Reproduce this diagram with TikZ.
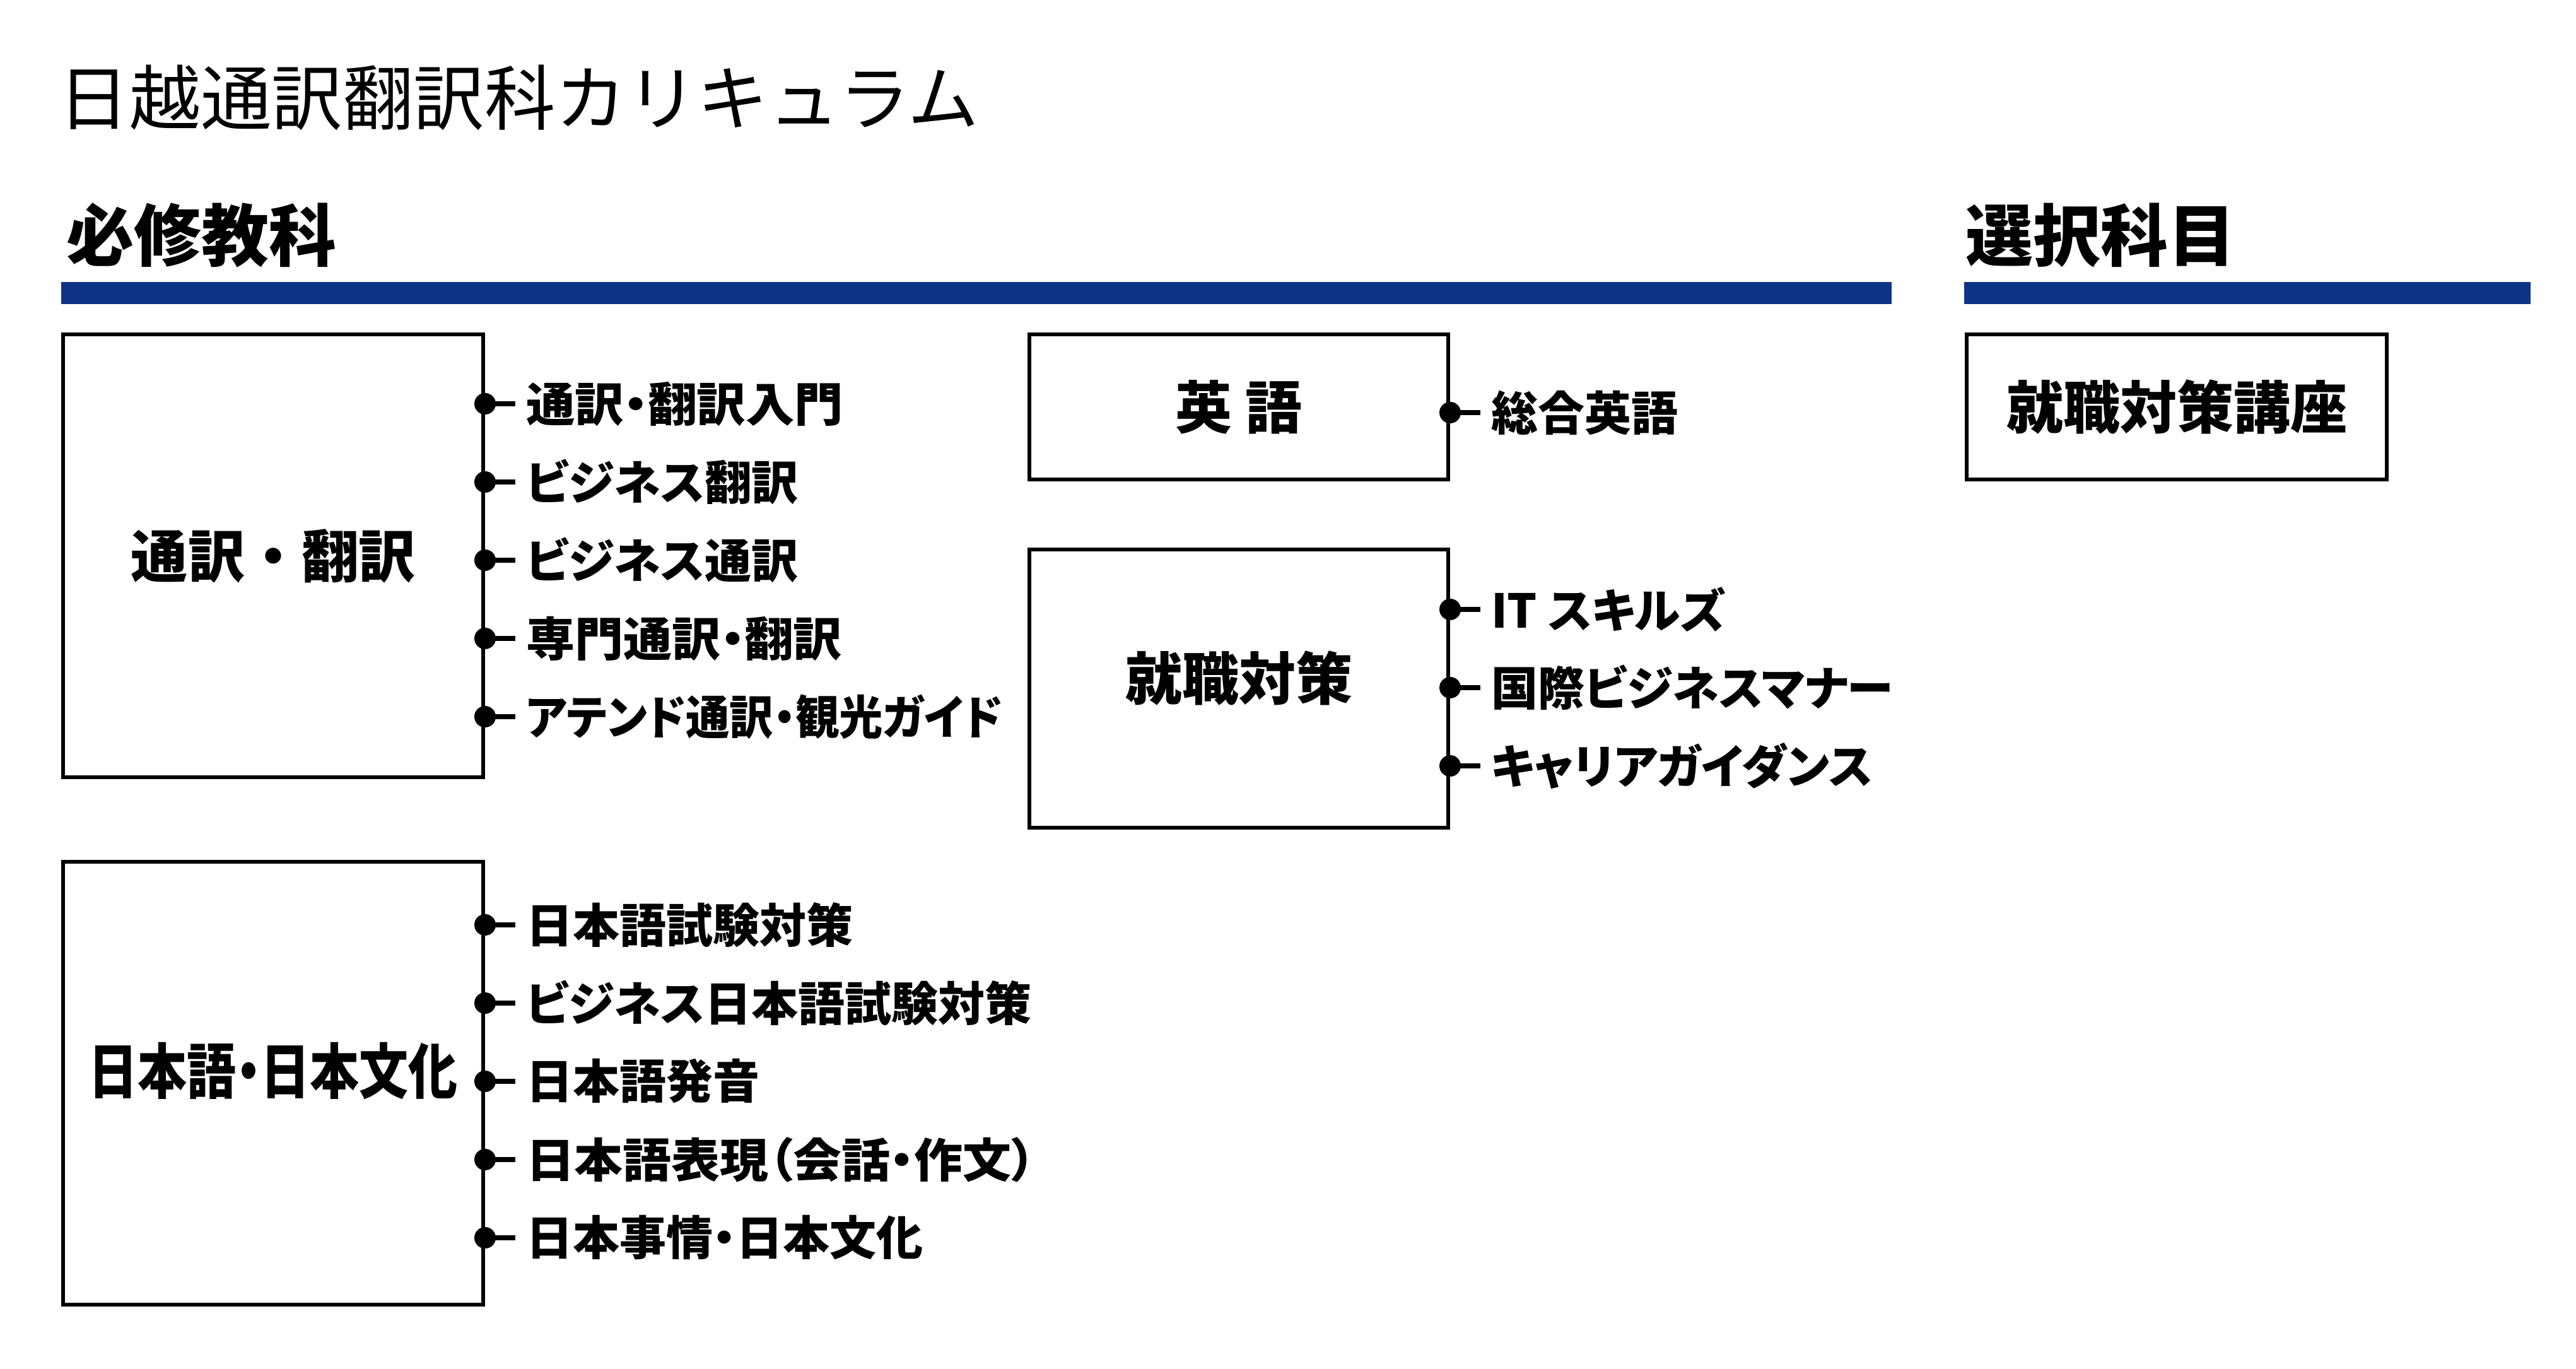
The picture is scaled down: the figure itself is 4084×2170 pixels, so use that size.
\documentclass[tikz,border=0pt]{standalone}
\usepackage{fontspec}
\newfontfamily\jp{Noto Sans CJK JP}
\newfontfamily\jpp[RawFeature=+palt]{Noto Sans CJK JP}
\definecolor{barblue}{RGB}{15,51,135}
\tikzset{
  frame/.style={draw=black, line width=1.2pt, fill=white, inner sep=0pt},
  boxlabel/.style={inner sep=0pt, font=\jp\bfseries\fontsize{18}{20}\selectfont},
  item/.style={anchor=west, inner sep=0pt,
    font=\jpp\bfseries\fontsize{14.8}{16}\selectfont},
  stub/.style={line width=1.6pt, shorten >=3.2pt},
  knob/.style={fill=black},
  bar/.style={fill=barblue, draw=none},
  heading/.style={anchor=west, inner sep=0pt,
    font=\jp\bfseries\fontsize{21.4}{24}\selectfont},
  titletext/.style={anchor=west, inner sep=0pt,
    font=\jp\fontsize{22.5}{26}\selectfont},
}
\begin{document}
\begin{tikzpicture}[x=0.2pt,y=-0.2pt]
\fill[white] (0,0) rectangle (4084,2170);
\useasboundingbox (0,0) rectangle (4084,2170);

% title and headings
\node[titletext] (title) at (92,155) {日越通訳翻訳科カリキュラム};
\node[heading] (h1) at (104,373) {必修教科};
\node[heading] (h2) at (3115,373) {選択科目};
\path[bar] (97,447) rectangle (2999,482);
\path[bar] (3114,447) rectangle (4012,482);

% boxes
\node[frame, minimum width=133.2pt, minimum height=140.4pt] (b1) at (433,881) {};
\node[frame, minimum width=133.2pt, minimum height=140.4pt] (b2) at (433,1717) {};
\node[frame, minimum width=132.8pt, minimum height=46pt] (b3) at (1964,645) {};
\node[frame, minimum width=132.8pt, minimum height=88.2pt] (b4) at (1964,1091.5) {};
\node[frame, minimum width=133.2pt, minimum height=46pt] (b5) at (3451,645) {};

% box labels
\node[boxlabel] (l1) at (433,881) {通訳・翻訳};
\node[boxlabel] (l2) at (433,1698) {\resizebox{117pt}{\height}{\jpp\fontsize{19}{21}\selectfont 日本語・日本文化}};
\node[boxlabel] (l3) at (1964,645) {英 語};
\node[boxlabel] (l4) at (1964,1075) {就職対策};
\node[boxlabel] (l5) at (3451,645) {就職対策講座};

% items of b1
\node[item] (t11) at (833,640) {\resizebox{100.6pt}{\height}{通訳・翻訳入門}};
\node[item] (t12) at (833,764) {ビジネス翻訳};
\node[item] (t13) at (833,888) {ビジネス通訳};
\node[item] (t14) at (833,1012) {\resizebox{100.2pt}{\height}{専門通訳・翻訳}};
\node[item] (t15) at (833,1136) {\resizebox{151pt}{\height}{アテンド通訳・観光ガイド}};
% items of b2
\node[item] (t21) at (833,1466) {日本語試験対策};
\node[item] (t22) at (833,1590) {ビジネス日本語試験対策};
\node[item] (t23) at (833,1714) {日本語発音};
\node[item] (t24) at (833,1838) {\resizebox{161.6pt}{\height}{日本語表現（会話・作文）}};
\node[item] (t25) at (833,1962) {日本事情・日本文化};
% items of b3, b4
\node[item] (t31) at (2363,654) {総合英語};
\node[item] (t41) at (2363,966) {IT スキルズ};
\node[item] (t42) at (2363,1090) {国際ビジネスマナー};
\node[item] (t43) at (2363,1214) {キャリアガイダンス};

% connectors
\foreach \b/\t in {b1/t11,b1/t12,b1/t13,b1/t14,b1/t15,
                   b2/t21,b2/t22,b2/t23,b2/t24,b2/t25,
                   b3/t31,b4/t41,b4/t42,b4/t43}{
  \coordinate (d\t) at (\b.east |- \t.west);
  \draw[stub] (d\t) -- (\t.west);
  \fill[knob] (d\t) circle (3.4pt);
}
\end{tikzpicture}
\end{document}
